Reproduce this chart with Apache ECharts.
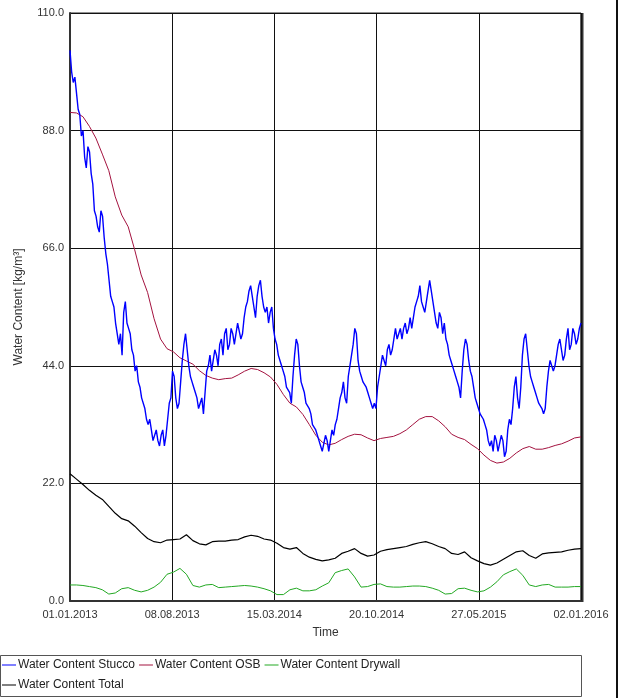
<!DOCTYPE html>
<html>
<head>
<meta charset="utf-8">
<script src="https://cdn.jsdelivr.net/npm/echarts@6/dist/echarts.min.js"></script>
<style>
  html, body { margin: 0; padding: 0; background: #fff; }
  #chart { width: 624px; height: 698px; }
</style>
</head>
<body>
<div id="chart"></div>
<script>
// x axis: days since 01.01.2013
var totalDays = 1095;
var tickLabels = ['01.01.2013', '08.08.2013', '15.03.2014', '20.10.2014', '27.05.2015', '02.01.2016'];

// stucco, read about twice a week (noisy)
var stucco = [
  103, 99, 97, 98, 95, 92, 91, 87, 88, 83, 81, 85, 84, 80, 78, 73, 72, 70, 69, 73,
  72, 68, 65, 63, 60, 57, 56, 55, 52, 50, 48, 50, 46, 54, 56, 52, 51, 50, 47, 46,
  43, 44, 41, 40, 38, 38, 36, 34, 33, 34, 32, 30, 30, 32, 30, 29, 31, 32, 29, 31,
  34, 37, 38, 43, 42, 38, 36, 37, 41, 45, 48, 50, 47, 44, 42, 41, 40, 39, 38, 36,
  37, 38, 35, 39, 43, 44, 46, 43, 45, 47, 46, 44, 48, 49, 46, 50, 51, 47, 48, 51,
  50, 48, 50, 52, 52, 49, 50, 53, 55, 56, 58, 59, 57, 55, 53, 57, 59, 60, 57, 55,
  54, 55, 52, 54, 55, 51, 49, 48, 46, 45, 44, 43, 42, 40, 40, 39, 37, 42, 46, 49,
  48, 44, 41, 40, 39, 37, 37, 36, 35, 33, 33, 32, 31, 30, 29, 28, 28, 31, 30, 28,
  30, 32, 31, 33, 34, 36, 38, 39, 41, 38, 37, 42, 44, 46, 48, 51, 50, 45, 43, 42,
  41, 41, 40, 39, 38, 37, 36, 37, 36, 40, 42, 44, 46, 45, 44, 47, 48, 46, 47, 49,
  51, 49, 50, 51, 49, 51, 52, 50, 51, 53, 51, 53, 55, 56, 57, 59, 56, 55, 54, 56,
  58, 60, 58, 56, 54, 52, 51, 54, 53, 50, 52, 49, 48, 46, 45, 44, 43, 42, 41, 40,
  38, 43, 47, 49, 48, 45, 43, 42, 40, 38, 37, 37, 35, 35, 34, 33, 32, 30, 29, 30,
  28, 31, 30, 28, 28, 31, 30, 27, 28, 32, 34, 33, 36, 40, 42, 38, 36, 40, 46, 49,
  50, 47, 44, 42, 41, 40, 39, 38, 37, 37, 36, 35, 36, 40, 43, 45, 45, 43, 44, 46,
  48, 49, 47, 45, 46, 49, 51, 47, 48, 51, 50, 48, 49, 51, 52
];

// smoother series, read every two weeks
var osb = [
  91.4, 91.3, 90.6, 88.8, 86.6, 83.6, 80.5, 75.6, 72.2, 70,
  65.7, 61, 57.7, 52.8, 49, 47.2, 46.6, 45.5, 44.9, 44.3,
  43.1, 42.2, 41.7, 41.4, 41.6, 41.7, 42.3, 43, 43.5, 43.3,
  42.7, 41.9, 40.5, 38.6, 37, 36.3, 34.9, 33, 31, 29.7,
  29.2, 29.5, 30.2, 30.8, 31.2, 31.1, 30.5, 30, 30.4, 30.6,
  30.8, 31.3, 32, 33, 34, 34.5, 34.5, 33.7, 32.6, 31.2,
  30.6, 30.2, 29.3, 28.5, 27.3, 26.3, 25.8, 26, 26.7, 27.7,
  28.5, 28.9, 28.4, 28.4, 28.7, 29.1, 29.4, 29.9, 30.5, 30.7
];
var drywall = [
  3, 3, 2.9, 2.7, 2.5, 2.1, 1.3, 1.5, 2.3, 2.5,
  2, 1.7, 2, 2.6, 3.5, 5, 5.4, 6.1, 5, 2.9,
  2.6, 3, 3.1, 2.5, 2.6, 2.7, 2.8, 2.9, 2.8, 2.6,
  2.3, 1.9, 1.2, 1.2, 2.1, 2.4, 1.9, 1.9, 2.1, 2.8,
  3.4, 5.3, 5.7, 6, 4.5, 2.6, 2.7, 3.1, 3.2, 2.7,
  2.6, 2.6, 2.7, 2.8, 2.8, 2.7, 2.4, 2, 1.3, 1.4,
  2.3, 2.4, 2, 1.7, 1.9, 2.6, 3.6, 4.9, 5.5, 6,
  4.8, 3, 2.7, 3, 3.1, 2.6, 2.6, 2.6, 2.7, 2.7
];
var total = [
  23.8, 22.8, 21.8, 20.7, 19.8, 19, 17.7, 16.4, 15.4, 15,
  14, 12.8, 11.7, 11.1, 10.9, 11.4, 11.5, 11.6, 12.4, 11.3,
  10.7, 10.5, 11.1, 11.2, 11.2, 11.4, 11.5, 12, 12.3, 12.1,
  11.6, 11.4, 10.8, 10, 9.7, 10, 8.9, 8.2, 7.8, 7.5,
  7.7, 8, 8.9, 9.3, 9.8, 8.9, 8.4, 8.6, 9.3, 9.6,
  9.8, 10, 10.2, 10.6, 10.9, 11.1, 10.7, 10.2, 9.8, 8.9,
  8.7, 9.2, 8.1, 7.5, 7, 6.7, 7.1, 7.8, 8.5, 9.2,
  9.4, 8.5, 8, 8.8, 9, 9.1, 9.2, 9.5, 9.7, 9.8
];

// pair values with evenly spread days
function toPoints(values) {
  var step = totalDays / (values.length - 1);
  return values.map(function (v, i) { return [i * step, v]; });
}

var chart = echarts.init(document.getElementById('chart'), null, { renderer: 'canvas' });

var font = 'Liberation Sans, Arial, sans-serif';

var option = {
  animation: false,
  textStyle: { fontFamily: font },
  grid: {
    left: 70,
    right: 43,
    top: 13,
    bottom: 97,
    show: true,
    borderColor: '#222',
    borderWidth: 1
  },
  legend: {
    left: 2,
    top: 657,
    width: 430,
    orient: 'horizontal',
    icon: 'rect',
    itemWidth: 14,
    itemHeight: 1,
    itemGap: 4,
    padding: 0,
    textStyle: { fontSize: 12, color: '#222', padding: [0, 0, 0, -3], lineHeight: 16, fontFamily: font },
    data: ['Water Content Stucco', 'Water Content OSB', 'Water Content Drywall', 'Water Content Total']
  },
  xAxis: {
    type: 'value',
    min: 0,
    max: totalDays,
    interval: 219,
    name: 'Time',
    nameLocation: 'middle',
    nameGap: 26,
    nameTextStyle: { fontSize: 12, color: '#333' },
    axisLine: { lineStyle: { color: '#333', width: 2 } },
    axisTick: { show: false },
    axisLabel: {
      margin: 8,
      fontSize: 11,
      color: '#333',
      formatter: function (v) { return tickLabels[Math.round(v / 219)]; }
    },
    splitLine: { show: true, lineStyle: { color: '#111', width: 1 } }
  },
  yAxis: {
    type: 'value',
    min: 0,
    max: 110,
    interval: 22,
    name: 'Water Content [kg/m³]',
    nameLocation: 'middle',
    nameGap: 45,
    nameTextStyle: { fontSize: 12, color: '#333' },
    axisLine: { show: true, lineStyle: { color: '#333', width: 2 } },
    axisTick: { show: false },
    axisLabel: {
      margin: 6,
      fontSize: 11,
      color: '#333',
      formatter: function (v) { return v.toFixed(1); }
    },
    splitLine: { show: true, lineStyle: { color: '#111', width: 1 } }
  },
  graphic: [
    // heavier right edge of the plot frame
    { type: 'line', shape: { x1: 582, y1: 13, x2: 582, y2: 602 }, style: { stroke: '#333', lineWidth: 3 }, silent: true },
    // legend frame
    { type: 'rect', shape: { x: 0.5, y: 655.5, width: 581, height: 41 }, style: { fill: 'none', stroke: '#555', lineWidth: 1 }, silent: true },
    // right edge line of the screenshot
    { type: 'line', shape: { x1: 617, y1: 0, x2: 617, y2: 698 }, style: { stroke: '#111', lineWidth: 2 }, silent: true }
  ],
  series: [
    {
      name: 'Water Content Stucco',
      type: 'line',
      symbol: 'none',
      lineStyle: { color: '#0000ff', width: 1.4 },
      itemStyle: { color: '#0000ff' },
      data: toPoints(stucco),
      z: 4
    },
    {
      name: 'Water Content OSB',
      type: 'line',
      symbol: 'none',
      lineStyle: { color: '#a3123f', width: 1 },
      itemStyle: { color: '#a3123f' },
      data: toPoints(osb),
      z: 3
    },
    {
      name: 'Water Content Drywall',
      type: 'line',
      symbol: 'none',
      lineStyle: { color: '#22a822', width: 1 },
      itemStyle: { color: '#22a822' },
      data: toPoints(drywall),
      z: 3
    },
    {
      name: 'Water Content Total',
      type: 'line',
      symbol: 'none',
      lineStyle: { color: '#000', width: 1.2 },
      itemStyle: { color: '#000' },
      data: toPoints(total),
      z: 3
    }
  ]
};

chart.setOption(option);
</script>
</body>
</html>
